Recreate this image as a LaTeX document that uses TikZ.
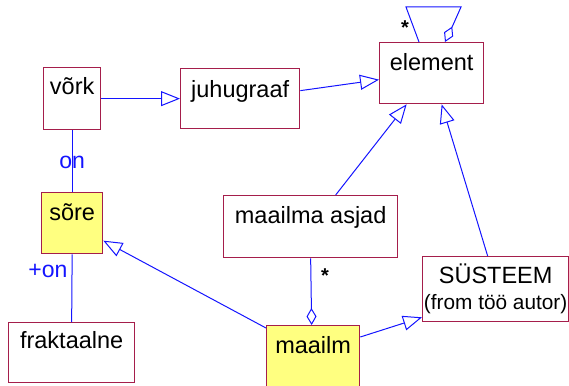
\documentclass[tikz,border=0pt]{standalone}
\usepackage{fontspec}
\setmainfont{Liberation Sans}
\usetikzlibrary{arrows.meta,calc}

\definecolor{umlblue}{RGB}{20,20,255}
\definecolor{umlrim}{RGB}{165,30,75}
\definecolor{umlyellow}{RGB}{255,255,128}

\tikzset{
  classbox/.style={draw=umlrim, line width=1.3pt, fill=white, inner sep=0pt,
                   anchor=north west},
  hotbox/.style={classbox, fill=umlyellow},
  classname/.style={anchor=base, inner sep=0pt, text=black,
                    font=\fontsize{23.5}{28}\selectfont},
  subname/.style={anchor=base, inner sep=0pt, text=black,
                  font=\fontsize{20.8}{25}\selectfont},
  umlline/.style={draw=umlblue, line width=1pt},
  inherit/.style={umlline, -{Triangle[open, length=19pt, width=15pt]}},
  aggregate/.style={umlline, {Diamond[open, length=17pt, width=10pt]}-},
  rolename/.style={anchor=base, inner sep=0pt, text=umlblue,
                   font=\fontsize{23}{28}\selectfont},
  multiplicity/.style={anchor=base, inner sep=0pt, text=black,
                       font=\fontsize{20}{24}\selectfont\bfseries}
}

\begin{document}
\begin{tikzpicture}[x=1pt, y=-1pt]
  \useasboundingbox (0,0) rectangle (569,385);

  % class boxes
  \node[classbox, minimum width=57pt,  minimum height=62pt] (vork)      at (43,67)   {};
  \node[classbox, minimum width=119pt, minimum height=60pt] (juhugraaf) at (180,68)  {};
  \node[classbox, minimum width=104pt, minimum height=61pt] (element)   at (379,42)  {};
  \node[hotbox,   minimum width=61pt,  minimum height=61pt] (sore)      at (41,192)  {};
  \node[classbox, minimum width=174pt, minimum height=62pt] (asjad)     at (223,195) {};
  \node[classbox, minimum width=146pt, minimum height=65pt] (susteem)   at (422,256) {};
  \node[classbox, minimum width=126pt, minimum height=60pt] (fraktaalne) at (8,322)  {};
  \node[hotbox,   minimum width=93pt,  minimum height=62pt] (maailm)    at (266,325) {};

  % class names
  \node[classname] (vork-n)      at ([yshift=-28pt]vork.north)       {võrk};
  \node[classname] (juhugraaf-n) at ([yshift=-29pt]juhugraaf.north)  {juhugraaf};
  \node[classname] (element-n)   at ([yshift=-29pt]element.north)    {element};
  \node[classname] (sore-n)      at ([yshift=-28pt]sore.north)       {sõre};
  \node[classname] (asjad-n)     at ([yshift=-28pt]asjad.north)      {maailma asjad};
  \node[classname] (susteem-n)   at ([yshift=-27pt]susteem.north)    {SÜSTEEM};
  \node[subname]   (susteem-s)   at ([yshift=-53pt]susteem.north)    {(from töö autor)};
  \node[classname] (fraktaalne-n) at ([yshift=-26pt]fraktaalne.north) {fraktaalne};
  \node[classname] (maailm-n)    at ([yshift=-28pt]maailm.north)     {maailm};

  % generalisations
  \draw[inherit] (vork.east) -- (juhugraaf.west);
  \draw[inherit] ([yshift=8pt]juhugraaf.east) -- ([yshift=-6.5pt]element.west);
  \draw[inherit] ([xshift=25pt]asjad.north) -- ([xshift=-25pt]element.south);
  \draw[inherit] ([xshift=-8pt]susteem.north) -- ([xshift=10pt]element.south);
  \draw[inherit] ([yshift=-3pt]maailm.north west) -- ([yshift=-17.5pt]sore.east);
  \draw[inherit] ([yshift=-12pt]maailm.north east) -- ([yshift=5pt]susteem.south west);

  % associations
  \draw[umlline] (vork.south) -- node[rolename, pos=0.62] (on-a) {on} (sore.north);
  \draw[umlline] (sore.south) -- node[rolename, pos=0.35, anchor=base east, xshift=-4pt] (on-b) {+on} (fraktaalne.north);

  % aggregations
  \draw[aggregate] ([xshift=-1.5pt]maailm.north) -- (asjad.south);
  \node[multiplicity] (asjad-m) at (325,282) {*};

  \draw[aggregate] ($(element.north west)+(66,0)$) -- ($(element.north west)+(74,-17)$)
                   -- ($(element.north west)+(82,-35)$) -- ($(element.north west)+(27,-35)$)
                   -- ($(element.north west)+(40,0)$);
  \node[multiplicity] (element-m) at (405,35) {*};
\end{tikzpicture}
\end{document}
